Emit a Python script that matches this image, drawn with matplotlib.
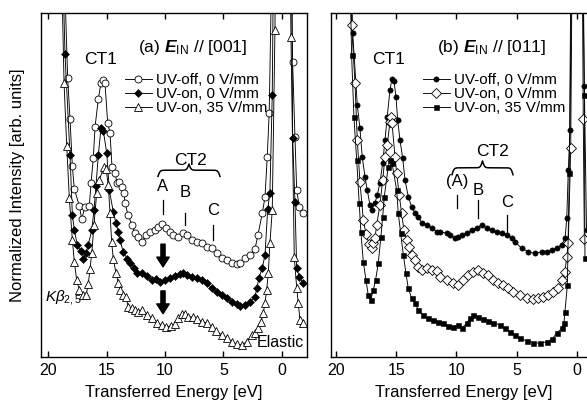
import numpy as np
import matplotlib
matplotlib.use("Agg")
import matplotlib.pyplot as plt

plt.rcParams["font.family"] = "Liberation Sans"
plt.rcParams["mathtext.fontset"] = "custom"
plt.rcParams["mathtext.rm"] = "Liberation Sans"
plt.rcParams["mathtext.it"] = "Liberation Sans:italic"
plt.rcParams["mathtext.bf"] = "Liberation Sans:bold:italic"

# panel (a) E_IN // [001]
a_off_e = [18.80, 18.32, 18.12, 17.92, 17.75, 17.32, 17.12, 16.84, 16.47, 16.32, 16.13, 15.98, 15.70, 15.47,
           15.27, 15.13, 14.90, 14.70, 14.53, 14.27, 14.10, 13.93, 13.68, 13.50, 13.42, 13.16, 12.82, 12.56,
           12.31, 11.97, 11.62, 11.28, 10.85, 10.60, 10.26, 9.91, 9.57, 9.32, 8.89, 8.46, 8.12, 7.69, 7.26,
           6.84, 6.41, 5.98, 5.56, 5.13, 4.70, 4.27, 3.85, 3.59, 3.16, 2.74, 2.31, 2.05, 1.68, 1.45, 1.26,
           1.09, 0.78, -0.73, -0.91, -1.11, -1.26, -1.48, -1.77]
a_off_i = [13.3, 8.11, 6.92, 5.55, 4.88, 4.39, 4.01, 4.36, 4.39, 5.06, 5.78, 6.69, 7.50, 7.97,
           8.05, 7.97, 6.80, 6.51, 5.52, 5.35, 5.06, 5.09, 4.94, 4.77, 4.48, 4.13, 3.84, 3.60,
           3.49, 3.34, 3.55, 3.63, 3.69, 3.78, 3.87, 3.75, 3.63, 3.55, 3.49, 3.60, 3.55, 3.40, 3.34,
           3.31, 3.20, 3.17, 3.02, 2.88, 2.82, 2.73, 2.70, 2.73, 2.88, 2.97, 3.14, 3.55, 4.19, 4.65, 5.81,
           7.09, 13.3, 13.3, 8.58, 6.40, 4.85, 4.36, 4.19]

a_on0_e = [18.89, 18.55, 18.12, 17.92, 17.75, 17.50, 17.21, 16.98, 16.75, 16.56, 16.26, 16.07, 15.90, 15.70,
           15.47, 15.27, 14.98, 14.76, 14.42, 14.19, 13.99, 13.85, 13.56, 13.22, 12.99, 12.62, 12.37, 11.99,
           11.56, 11.14, 10.77, 10.43, 10.00, 9.57, 9.15, 8.72, 8.44, 8.15, 7.72, 7.29, 6.86, 6.44, 6.01,
           5.58, 5.15, 4.73, 4.30, 3.87, 3.59, 3.16, 2.74, 2.31, 2.14, 1.97, 1.68, 1.45, 1.22, 1.03, 0.83,
           0.68, -0.81, -0.91, -1.11, -1.26, -1.48, -1.77]
a_on0_i = [13.3, 8.81, 5.87, 4.13, 3.69, 3.26, 3.08, 2.85, 3.02, 3.26, 3.69, 4.27, 4.97, 5.87,
           6.66, 6.57, 5.93, 4.85, 4.22, 3.90, 3.63, 3.40, 3.05, 2.85, 2.73, 2.59, 2.44, 2.45,
           2.35, 2.24, 2.27, 2.18, 2.24, 2.30, 2.35, 2.41, 2.45, 2.38, 2.33, 2.30, 2.24, 2.15, 2.01,
           1.89, 1.80, 1.72, 1.60, 1.54, 1.48, 1.51, 1.60, 1.74, 2.01, 2.30, 2.59, 2.97, 4.30, 4.77, 7.62,
           13.3, 13.3, 6.37, 4.51, 2.59, 2.33, 2.15]

a_on35_e = [18.97, 18.63, 18.40, 18.18, 17.92, 17.75, 17.55, 17.32, 17.03, 16.75, 16.56, 16.41, 16.26, 16.07,
            15.84, 15.62, 15.21, 15.04, 14.85, 14.70, 14.56, 14.42, 14.19, 13.99, 13.85, 13.56, 13.33, 13.14,
            12.85, 12.56, 12.28, 11.99, 11.56, 11.14, 10.71, 10.28, 9.91, 9.51, 9.15, 8.86, 8.57, 8.29, 8.01,
            7.63, 7.29, 6.86, 6.44, 6.01, 5.64, 5.15, 4.73, 4.30, 3.87, 3.44, 3.02, 2.59, 2.31, 2.03, 1.79,
            1.60, 1.45, 1.31, 1.17, 1.03, 0.83, 0.60, 0.51, -0.64, -0.77, -1.05, -1.26, -1.39, -1.54, -1.77]
a_on35_i = [13.3, 7.97, 6.13, 4.62, 3.40, 2.76, 2.24, 1.95, 1.80, 1.80, 2.12, 2.56, 3.02, 3.84,
            4.77, 5.15, 5.52, 5.47, 5.00, 4.19, 3.34, 2.85, 2.44, 2.15, 1.95, 1.80, 1.74, 1.45,
            1.42, 1.37, 1.31, 1.37, 1.22, 1.13, 0.99, 0.93, 0.88, 0.90, 0.96, 1.13, 1.25, 1.25, 1.17,
            1.16, 1.10, 1.03, 0.99, 0.88, 0.76, 0.64, 0.55, 0.44, 0.38, 0.35, 0.44, 0.64, 0.70, 0.84, 1.02,
            1.28, 1.57, 1.95, 2.44, 3.31, 4.27, 9.51, 13.3, 13.3, 9.30, 2.91, 2.01, 1.57, 1.08, 0.99]

# panel (b) E_IN // [011]
b_off_e = [18.88, 18.61, 18.23, 18.01, 17.82, 17.59, 17.40, 17.18, 17.04, 16.76, 16.57, 16.35, 16.12, 15.93,
           15.74, 15.52, 15.35, 15.19, 15.02, 14.88, 14.69, 14.46, 14.27, 14.00, 13.72, 13.44, 13.17, 12.89,
           12.47, 12.06, 11.64, 11.37, 10.81, 10.54, 10.12, 9.85, 9.57, 9.15, 8.74, 8.32, 7.91, 7.49, 7.08,
           6.66, 6.25, 5.83, 5.42, 5.15, 4.59, 4.04, 3.49, 2.93, 2.51, 2.10, 1.68, 1.27, 0.99, 0.85, 0.72,
           0.58, 0.41, -0.46, -0.61, -0.79]
b_off_i = [13.3, 9.43, 7.33, 6.65, 5.82, 5.24, 4.85, 4.42, 4.27, 4.48, 4.71, 5.06, 5.64, 6.31,
           6.99, 7.76, 8.08, 8.03, 7.57, 6.89, 6.31, 5.78, 5.15, 4.66, 4.37, 4.19, 4.08, 3.90,
           3.84, 3.74, 3.64, 3.64, 3.60, 3.55, 3.45, 3.50, 3.55, 3.60, 3.69, 3.75, 3.84, 3.75, 3.69,
           3.64, 3.60, 3.55, 3.46, 3.35, 3.16, 3.06, 3.01, 3.06, 3.06, 3.11, 3.17, 3.26, 3.45, 4.03, 5.44,
           6.60, 13.3, 13.3, 7.88, 3.69]

b_on0_e = [18.92, 18.70, 18.42, 18.23, 18.01, 17.73, 17.51, 17.24, 17.04, 16.90, 16.76, 16.62, 16.35, 16.12,
           15.93, 15.74, 15.52, 15.46, 15.35, 15.10, 14.96, 14.75, 14.55, 14.36, 14.13, 13.92, 13.72, 13.44,
           13.17, 12.89, 12.47, 12.06, 11.64, 11.37, 10.81, 10.27, 9.85, 9.44, 9.02, 8.61, 8.19, 7.78, 7.36,
           6.95, 6.53, 6.12, 5.70, 5.29, 4.73, 4.17, 3.63, 3.21, 2.80, 2.38, 1.97, 1.55, 1.27, 1.00, 0.85,
           0.72, 0.52, 0.37, -0.41, -0.52, -0.61]
b_on0_i = [13.3, 9.65, 7.97, 6.31, 5.10, 3.98, 3.58, 3.28, 3.16, 3.31, 3.46, 3.84, 4.42, 5.15,
           5.82, 6.16, 6.84, 6.97, 6.81, 5.82, 5.34, 4.71, 4.18, 3.69, 3.40, 3.21, 2.97, 2.82,
           2.63, 2.53, 2.58, 2.53, 2.51, 2.33, 2.24, 2.14, 2.09, 2.24, 2.38, 2.48, 2.53, 2.45, 2.38,
           2.24, 2.16, 2.09, 2.00, 1.90, 1.80, 1.71, 1.68, 1.71, 1.75, 1.80, 1.90, 2.00, 2.24, 2.48, 2.92,
           3.31, 6.08, 13.3, 13.3, 6.92, 3.43]

b_on35_e = [18.96, 18.70, 18.51, 18.28, 18.07, 17.93, 17.73, 17.51, 17.32, 17.12, 16.90, 16.71, 16.49, 16.27,
            16.12, 15.99, 15.66, 15.52, 15.35, 14.96, 14.83, 14.63, 14.41, 14.19, 14.00, 13.72, 13.44, 13.17,
            12.75, 12.34, 11.93, 11.51, 11.10, 10.68, 10.27, 9.85, 9.57, 9.15, 8.88, 8.61, 8.19, 7.78, 7.36,
            6.95, 6.39, 5.98, 5.56, 5.15, 4.73, 4.17, 3.63, 3.07, 2.51, 2.10, 1.68, 1.27, 1.08, 1.00, 0.80,
            0.64, 0.46, -0.41, -0.61, -0.66]
b_on35_i = [13.3, 8.78, 6.99, 5.73, 4.47, 3.64, 2.77, 2.24, 1.80, 1.66, 1.95, 2.24, 2.72, 3.50,
            4.08, 4.66, 5.53, 5.73, 5.64, 4.85, 4.18, 3.60, 2.97, 2.43, 2.00, 1.71, 1.56, 1.37,
            1.22, 1.13, 1.08, 1.03, 0.98, 0.90, 0.88, 0.93, 0.83, 0.98, 1.13, 1.22, 1.17, 1.10, 1.06,
            1.00, 0.93, 0.83, 0.74, 0.64, 0.54, 0.47, 0.42, 0.40, 0.44, 0.51, 0.69, 0.83, 0.98, 1.32, 2.09,
            5.35, 13.3, 13.3, 7.62, 2.88]

labels = ["UV-off, 0 V/mm", "UV-on, 0 V/mm", "UV-on, 35 V/mm"]
ticks = [20, 15, 10, 5, 0]


def brace(ax, x0, x1, y, h):
    t = np.linspace(0, 0.5, 101)
    k = 60
    yh = 1 / (1 + np.exp(-k * (t - t[0]))) + 1 / (1 + np.exp(-k * (t - t[-1])))
    yy = np.concatenate([yh, yh[-2::-1]])
    xx = np.linspace(x0, x1, len(yy))
    ax.plot(xx, y + (yy - 1) * h, color="k", lw=1.1)


def mark(ax, x, txt, ty, y0, y1):
    ax.text(x, ty, txt, ha="center", va="center", fontsize=12)
    ax.plot([x, x], [y0, y1], color="k", lw=0.9)


fig = plt.figure(figsize=(5.87, 4.01), dpi=100)
ax1 = fig.add_axes([41 / 587, 44 / 401, 266 / 587, 344 / 401])
ax2 = fig.add_axes([331 / 587, 44 / 401, 266 / 587, 344 / 401])

lk = dict(color="k", lw=0.65)
ax1.plot(a_off_e, a_off_i, marker="o", ms=5, mfc="white", mec="k", mew=0.6, label=labels[0], **lk)
ax1.plot(a_on0_e, a_on0_i, marker="D", ms=3.8, mfc="k", mec="k", mew=0.4, label=labels[1], **lk)
ax1.plot(a_on35_e, a_on35_i, marker="^", ms=5.5, mfc="white", mec="k", mew=0.6, label=labels[2], **lk)

ax2.plot(b_off_e, b_off_i, marker="o", ms=3.8, mfc="k", mec="k", mew=0.4, label=labels[0], **lk)
ax2.plot(b_on0_e, b_on0_i, marker="D", ms=5, mfc="white", mec="k", mew=0.6, label=labels[1], **lk)
ax2.plot(b_on35_e, b_on35_i, marker="s", ms=3.6, mfc="k", mec="k", mew=0.4, label=labels[2], **lk)

ax1.set_xlim(20.6, -2.14)
ax2.set_xlim(20.41, -1.66)
for ax in (ax1, ax2):
    ax.set_ylim(0, 10)
    ax.set_xticks(ticks)
    ax.set_yticks([])
    ax.tick_params(axis="x", direction="in", top=True, length=4.5, width=1.0, labelsize=11.5, pad=4)
    for s in ax.spines.values():
        s.set_linewidth(1.0)
    ax.set_xlabel("Transferred Energy [eV]", fontsize=12)
    ax.xaxis.set_label_coords(0.5, -0.082)
    ax.legend(loc="upper left", frameon=False, fontsize=11, handlelength=1.75, handletextpad=0.3,
              labelspacing=0.02, borderpad=0, borderaxespad=0,
              bbox_to_anchor=(0.316 if ax is ax1 else 0.346, 0.826))

fig.text(18 / 587, (401 - 185) / 401, "Normalized Intensity [arb. units]", rotation=90,
         ha="center", va="center", fontsize=12)

# panel (a) annotations
ax1.text(0.365, 0.90, r"(a) $\mathbf{E}_{\mathrm{IN}}$ // [001]", transform=ax1.transAxes,
         ha="left", va="center", fontsize=12.5)
ax1.text(15.47, 8.66, "CT1", ha="center", va="center", fontsize=12.5)
ax1.text(7.86, 5.72, "CT2", ha="center", va="center", fontsize=12.5)
brace(ax1, 10.6, 5.3, 5.43, 0.36)
mark(ax1, 10.17, "A", 4.97, 4.56, 4.16)
mark(ax1, 8.29, "B", 4.77, 4.19, 3.84)
mark(ax1, 5.90, "C", 4.27, 3.84, 3.40)
arrow = dict(facecolor="k", edgecolor="k", width=3, headwidth=9, headlength=7, shrink=0)
ax1.annotate("", xy=(10.17, 2.62), xytext=(10.17, 3.28), arrowprops=arrow)
ax1.annotate("", xy=(10.17, 1.26), xytext=(10.17, 1.92), arrowprops=arrow)
ax1.text(20.26, 1.74, r"$\mathit{K}\beta_{2,5}$", ha="left", va="center", fontsize=11)
ax1.text(-1.88, 0.41, "Elastic", ha="right", va="center", fontsize=11.5)

# panel (b) annotations
ax2.text(0.398, 0.90, r"(b) $\mathbf{E}_{\mathrm{IN}}$ // [011]", transform=ax2.transAxes,
         ha="left", va="center", fontsize=12.5)
ax2.text(15.6, 8.66, "CT1", ha="center", va="center", fontsize=12.5)
ax2.text(7.05, 5.96, "CT2", ha="center", va="center", fontsize=12.5)
brace(ax2, 10.37, 5.31, 5.5, 0.4)
mark(ax2, 9.96, "(A)", 5.09, 4.71, 4.33)
mark(ax2, 8.22, "B", 4.85, 4.56, 4.04)
mark(ax2, 5.81, "C", 4.48, 4.13, 3.60)

plt.savefig("out.png", dpi=100)
